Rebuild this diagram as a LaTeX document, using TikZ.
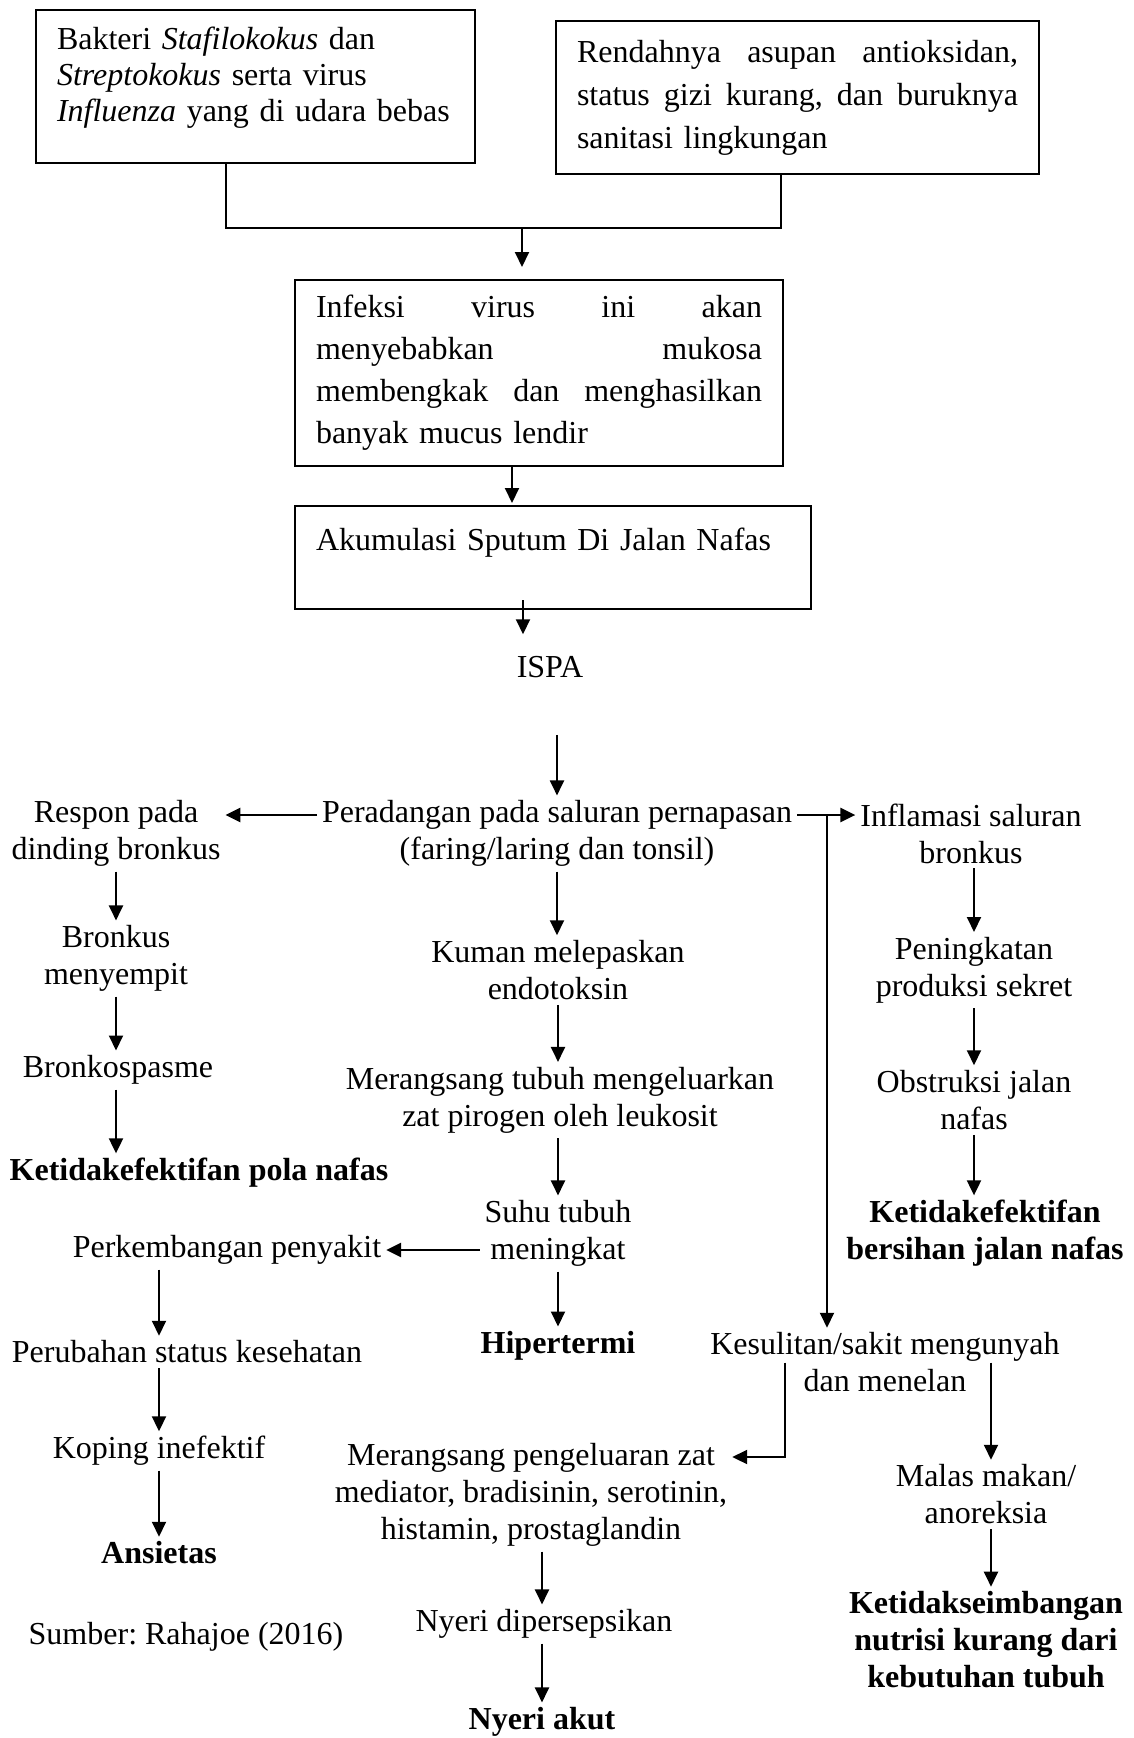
\documentclass[tikz,border=0pt]{standalone}
\usepackage{fontspec}
\setmainfont{Liberation Serif}
\usetikzlibrary{arrows.meta}
\frenchspacing

\begin{document}
\begin{tikzpicture}[x=1pt, y=-1pt, line width=2pt,
  txt/.style={align=center, inner sep=4pt, font=\fontsize{32}{37}\selectfont},
  bold/.style={txt, font=\fontsize{32}{37}\selectfont\bfseries},
  box/.style={draw, anchor=north west, align=left, inner xsep=21pt, inner ysep=0pt},
  arr/.style={-{Triangle[length=15pt,width=14pt]}}]
\useasboundingbox (0,0) rectangle (1133,1738);

\node[box, text width=397pt, minimum height=153pt, font=\fontsize{32}{36}\selectfont] (bakteri) at (35,9)
  {Bakteri \textit{Stafilokokus} dan\\ \textit{Streptokokus} serta virus\\ \textit{Influenza} yang di udara bebas\\[-11pt]\mbox{}};
\node[box, text width=441pt, minimum height=153pt, font=\fontsize{32}{43}\selectfont] (gizi) at (555,20)
  {Rendahnya\hfill asupan\hfill antioksidan,\\ status\hfill gizi\hfill kurang,\hfill dan\hfill buruknya\\ sanitasi lingkungan};
\node[box, text width=446pt, minimum height=186pt, font=\fontsize{32}{42}\selectfont] (infeksi) at (294,279)
  {Infeksi\hfill virus\hfill ini\hfill akan\\ menyebabkan\hfill mukosa\\ membengkak\hfill dan\hfill menghasilkan\\ banyak mucus lendir};
\node[box, text width=474pt, minimum height=103pt, font=\fontsize{32}{37}\selectfont] (sputum) at (294,505)
  {Akumulasi Sputum Di Jalan Nafas\\ \mbox{}};

\node[txt] (ispa) at (550,667) {ISPA};
\node[txt] (radang) at (557,833.5) {Peradangan pada saluran pernapasan\\(faring/laring dan tonsil)};
\node[txt] (respon) at (116,833.5) {Respon pada\\dinding bronkus};
\node[txt] (inflam) at (971,833.5) {Inflamasi saluran\\bronkus};
\node[txt] (sempit) at (116,958.5) {Bronkus\\menyempit};
\node[txt] (spasme) at (118,1070) {Bronkospasme};
\node[bold] (pola) at (199,1173) {Ketidakefektifan pola nafas};
\node[txt] (kuman) at (558,970) {Kuman melepaskan\\endotoksin};
\node[txt] (pirogen) at (560,1100) {Merangsang tubuh mengeluarkan\\zat pirogen oleh leukosit};
\node[txt] (suhu) at (558,1233.5) {Suhu tubuh\\meningkat};
\node[bold] (hiper) at (558,1346) {Hipertermi};
\node[txt] (kembang) at (227,1250) {Perkembangan penyakit};
\node[txt] (status) at (187,1352) {Perubahan status kesehatan};
\node[txt] (koping) at (159,1451) {Koping inefektif};
\node[bold] (ansietas) at (159,1553) {Ansietas};
\node[txt] (sumber) at (186,1637) {Sumber: Rahajoe (2016)};
\node[txt] (sekret) at (974,970) {Peningkatan\\produksi sekret};
\node[txt] (obstruksi) at (974,1100) {Obstruksi jalan\\nafas};
\node[bold] (bersihan) at (985,1233.5) {Ketidakefektifan\\bersihan jalan nafas};
\node[txt] (menelan) at (885,1362.5) {Kesulitan/sakit mengunyah\\dan menelan};
\node[txt] (mediator) at (531,1495) {Merangsang pengeluaran zat\\mediator, bradisinin, serotinin,\\histamin, prostaglandin};
\node[txt] (persepsi) at (544,1624) {Nyeri dipersepsikan};
\node[bold] (akut) at (542,1722) {Nyeri akut};
\node[txt] (anoreksia) at (986,1494.5) {Malas makan/\\anoreksia};
\node[bold] (nutrisi) at (986,1640) {Ketidakseimbangan\\nutrisi kurang dari\\kebutuhan tubuh};

\coordinate (gabung) at (522,228);
\coordinate (cabang) at ([xshift=30pt,yshift=18.5pt]radang.east);

\draw ([xshift=-29.5pt]bakteri.south) |- (gabung) -| ([xshift=-16.5pt]gizi.south);
\draw[arr] (gabung) -- ([yshift=12pt]infeksi.north -| gabung);
\draw[arr] ([xshift=-27pt]infeksi.south) -- ([xshift=-27pt,yshift=2pt]infeksi.south |- sputum.north);
\draw[arr] ([xshift=-30pt,yshift=10pt]sputum.south) -- ([xshift=-30pt,yshift=17pt]sputum.south |- ispa.north);
\draw[arr] ([yshift=-52pt]ispa.south -| radang.north) -- (radang.north);

\draw[arr, line width=2.6pt] ([yshift=18.5pt]radang.west) -- ([yshift=18.5pt]radang.west -| respon.east);
\draw[arr, line width=2.6pt] ([yshift=18.5pt]radang.east) -- ([yshift=18.5pt]radang.east -| inflam.west);
\draw[arr] (cabang) -- (cabang |- menelan.north);

\draw[arr] (respon.south) -- (sempit.north);
\draw[arr] (sempit.south) -- (sempit.south |- spasme.north);
\draw[arr] (spasme.south -| sempit) -- (sempit |- pola.north);

\draw[arr] (radang.south) -- (radang.south |- kuman.north);
\draw[arr] (kuman.south) -- (kuman.south |- pirogen.north);
\draw[arr] (pirogen.south -| kuman) -- (kuman |- suhu.north);
\draw[arr] (suhu.south) -- (hiper.north);
\draw[arr, line width=2.6pt] (suhu.west |- kembang) -- (kembang.east);

\draw[arr] (kembang.south -| koping) -- (koping |- status.north);
\draw[arr] (status.south -| koping) -- (koping.north);
\draw[arr] (koping.south) -- (ansietas.north);

\draw[arr] (inflam.south -| sekret) -- (sekret.north);
\draw[arr] (sekret.south) -- (obstruksi.north);
\draw[arr] (obstruksi.south) -- (obstruksi.south |- bersihan.north);

\draw[arr] ([xshift=-100pt]menelan.center) |- ([yshift=38pt]mediator.east);
\draw[arr] ([xshift=5pt]anoreksia.north |- menelan.center) -- ([xshift=5pt]anoreksia.north);
\draw[arr] ([xshift=5pt]anoreksia.south) -- ([xshift=5pt]anoreksia.south |- nutrisi.north);

\draw[arr] (mediator.south -| akut) -- (akut |- persepsi.north);
\draw[arr] (persepsi.south -| akut) -- (akut.north);
\end{tikzpicture}
\end{document}
